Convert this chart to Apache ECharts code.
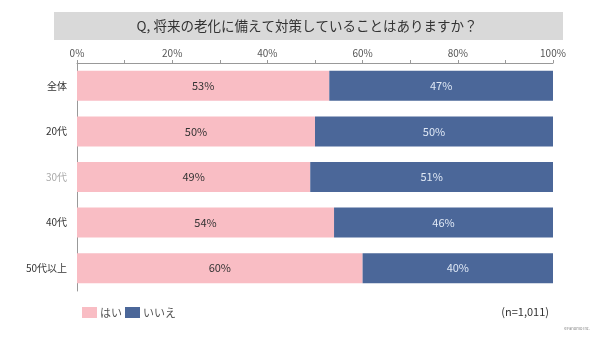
<!DOCTYPE html>
<html>
<head>
<meta charset="utf-8">
<script src="https://cdn.jsdelivr.net/npm/echarts@6/dist/echarts.min.js"></script>
<style>
html,body{margin:0;padding:0;background:#fff;}
#chart{width:600px;height:338px;}
</style>
</head>
<body>
<div id="chart"></div>
<script>
// Survey answers by age group (percent)
const categories = ['全体', '20代', '30代', '40代', '50代以上'];
const yesValues = [53, 50, 49, 54, 60];
const noValues = [47, 50, 51, 46, 40];
const seriesNames = ['はい', 'いいえ'];
const tickValues = [0, 20, 40, 60, 80, 100];

const font = '"Noto Sans CJK JP", "Noto Sans", sans-serif';
const pink = '#f9bdc4';
const blue = '#4b6799';

const chart = echarts.init(document.getElementById('chart'));
chart.setOption({
  animation: false,
  textStyle: { fontFamily: font },
  graphic: [
    { type: 'rect', shape: { x: 54, y: 12, width: 509, height: 28 }, style: { fill: '#d9d9d9' } },
    { type: 'text', x: 307, y: 26, style: { text: 'Q, 将来の老化に備えて対策していることはありますか？', fontSize: 13.5, fill: '#333', align: 'center', verticalAlign: 'middle', fontFamily: font } },
    { type: 'text', x: 549, y: 312, style: { text: '(n=1,011)', fontSize: 11, fill: '#333', align: 'right', verticalAlign: 'middle', fontFamily: font } },
    { type: 'text', x: 590, y: 328, style: { text: '©Fanomo Inc.', fontSize: 4, fill: '#888', align: 'right', verticalAlign: 'middle', fontFamily: font } }
  ],
  legend: {
    left: 82, top: 307, padding: 0,
    itemWidth: 15, itemHeight: 11, itemGap: 3,
    icon: 'rect',
    textStyle: { fontSize: 11, color: '#555', fontFamily: font, padding: [0, 0, 0, -2] },
    data: seriesNames
  },
  grid: { left: 77, right: 47, top: 63, bottom: 47, containLabel: false },
  xAxis: {
    type: 'value', position: 'top', min: 0, max: 100, interval: 10,
    axisLine: { show: true, lineStyle: { color: '#999' } },
    axisTick: { show: true, length: 3, inside: false, lineStyle: { color: '#999' } },
    splitLine: { show: false },
    axisLabel: {
      fontSize: 10, color: '#555', margin: 5,
      formatter: v => tickValues.includes(v) ? v + '%' : ''
    }
  },
  yAxis: {
    type: 'category', inverse: true, data: categories,
    axisLine: { show: true, lineStyle: { color: '#999' } },
    axisTick: { show: false },
    axisLabel: {
      fontSize: 10, margin: 10,
      color: (v) => v === '30代' ? '#aaa' : '#333'
    }
  },
  series: [
    {
      name: seriesNames[0], type: 'bar', stack: 'total', data: yesValues,
      barWidth: 30, itemStyle: { color: pink },
      label: { show: true, position: 'inside', formatter: '{c}%', fontSize: 11, color: '#333', fontFamily: font }
    },
    {
      name: seriesNames[1], type: 'bar', stack: 'total', data: noValues,
      barWidth: 30, itemStyle: { color: blue },
      label: { show: true, position: 'inside', formatter: '{c}%', fontSize: 11, color: '#dfe8f5', fontFamily: font }
    }
  ]
});
</script>
</body>
</html>
